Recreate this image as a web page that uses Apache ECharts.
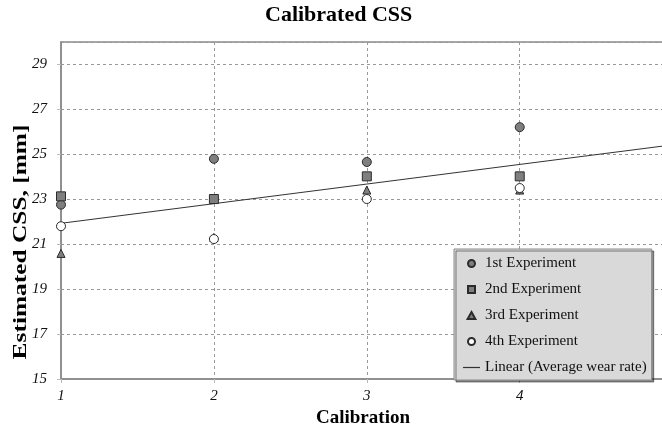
<!DOCTYPE html>
<html>
<head>
<meta charset="utf-8">
<script src="https://cdn.jsdelivr.net/npm/echarts@6/dist/echarts.min.js"></script>
<style>
	html, body { margin: 0; padding: 0; background: #fff; }
	#chart { width: 662px; height: 432px; }
</style>
</head>
<body>
<div id="chart"></div>
<script>
// calibration runs (x)
const calibrations = [1, 2, 3, 4]
// estimated CSS [mm] per experiment
const exp1 = [22.76, 24.8, 24.66, 26.21]
const exp2 = [23.13, 23.01, 24.02, 24.02]
const exp3 = [20.59, 21.3, 23.41, 23.41]
const exp4 = [21.8, 21.23, 23.01, 23.5]
// linear trend (average wear rate), end points
const trendX = [1, 4.95]
const trendY = [21.93, 25.38]

const serif = 'Liberation Serif, Times New Roman, serif'
const markerFill = '#7f7f7f'
const markerEdge = '#2b2b2b'

// legend icons keep their aspect (small square / triangle / dash)
const ICON_SQUARE = 'path://M0,0h10v10h-10z'
const ICON_TRIANGLE = 'path://M5,0L10,9L0,9Z'
const ICON_DASH = 'path://M0,0h17v1.2h-17z'

const toPoints = (xs, ys) => xs.map((x, i) => [x, ys[i]])

// 散点系列
const scatter = (name, data, symbol, fill, size) => ({
	name,
	type: 'scatter',
	data: toPoints(calibrations, data),
	symbol,
	symbolSize: size,
	itemStyle: { color: fill, borderColor: markerEdge, borderWidth: 1, opacity: 1 },
	z: 3,
})

const chart = echarts.init(document.getElementById('chart'))
chart.setOption({
	animation: false,
	backgroundColor: '#fff',
	title: {
		text: 'Calibrated CSS',
		left: 265,
		top: 4,
		padding: 0,
		textStyle: { fontFamily: serif, fontSize: 22, fontWeight: 'bold', color: '#000' },
	},
	// y axis title: stretched along its length like the original
	graphic: [
		{
			type: 'text',
			x: 21,
			y: 242,
			rotation: Math.PI / 2,
			scaleX: 1.41,
			style: {
				text: 'Estimated CSS, [mm]',
				font: 'bold 18px ' + serif,
				fill: '#000',
				align: 'center',
				verticalAlign: 'middle',
			},
		},
	],
	grid: {
		left: 61,
		top: 42,
		right: -3,
		bottom: 53,
		outerBoundsMode: 'none',
		containLabel: false,
		show: true,
		borderColor: '#8a8a8a',
		borderWidth: 1.5,
		backgroundColor: '#fff',
	},
	legend: {
		orient: 'vertical',
		left: 454,
		top: 249,
		padding: [7, 5, 5, 9],
		itemGap: 11,
		itemWidth: 17,
		itemHeight: 7,
		symbolKeepAspect: true,
		backgroundColor: '#d9d9d9',
		borderColor: '#8a8a8a',
		borderWidth: 1,
		shadowColor: 'rgba(0,0,0,0.45)',
		shadowOffsetX: 2,
		shadowOffsetY: 2,
		shadowBlur: 0,
		textStyle: { fontFamily: serif, fontSize: 15, color: '#111' },
		data: [
			{ name: '1st Experiment', icon: 'circle' },
			{ name: '2nd Experiment', icon: ICON_SQUARE },
			{ name: '3rd Experiment', icon: ICON_TRIANGLE },
			{ name: '4th Experiment', icon: 'circle' },
			{ name: 'Linear (Average wear rate)', icon: ICON_DASH },
		],
	},
	xAxis: {
		type: 'value',
		min: 1,
		max: 4.95,
		interval: 1,
		name: 'Calibration',
		nameLocation: 'middle',
		nameGap: 30,
		nameMoveOverlap: false,
		nameTextStyle: { fontFamily: serif, fontSize: 19, fontWeight: 'bold', color: '#000' },
		axisLine: { show: true, lineStyle: { color: '#8a8a8a', width: 1.5 } },
		axisTick: { show: true, length: 4, lineStyle: { color: '#bbb' } },
		axisLabel: {
			showMaxLabel: false,
			margin: 10,
			fontFamily: serif,
			fontSize: 15,
			fontStyle: 'italic',
			color: '#111',
		},
		splitLine: { show: true, lineStyle: { color: '#999', type: [3, 3], width: 1 } },
	},
	yAxis: {
		type: 'value',
		min: 15,
		max: 30,
		interval: 2,
		axisLine: { show: true, lineStyle: { color: '#8a8a8a', width: 1.5 } },
		axisTick: { show: true, length: 4, lineStyle: { color: '#bbb' } },
		axisLabel: {
			showMaxLabel: false,
			margin: 14,
			fontFamily: serif,
			fontSize: 15,
			fontStyle: 'italic',
			color: '#111',
		},
		splitLine: { show: true, lineStyle: { color: '#999', type: [3, 3], width: 1 } },
	},
	series: [
		scatter('1st Experiment', exp1, 'circle', markerFill, 9),
		scatter('2nd Experiment', exp2, 'rect', markerFill, 9),
		scatter('3rd Experiment', exp3, 'triangle', markerFill, 8),
		scatter('4th Experiment', exp4, 'circle', '#fff', 9),
		{
			name: 'Linear (Average wear rate)',
			type: 'line',
			data: toPoints(trendX, trendY),
			symbol: 'none',
			lineStyle: { color: '#333', width: 1 },
			itemStyle: { color: '#333' },
			z: 2,
		},
	],
})
</script>
</body>
</html>
